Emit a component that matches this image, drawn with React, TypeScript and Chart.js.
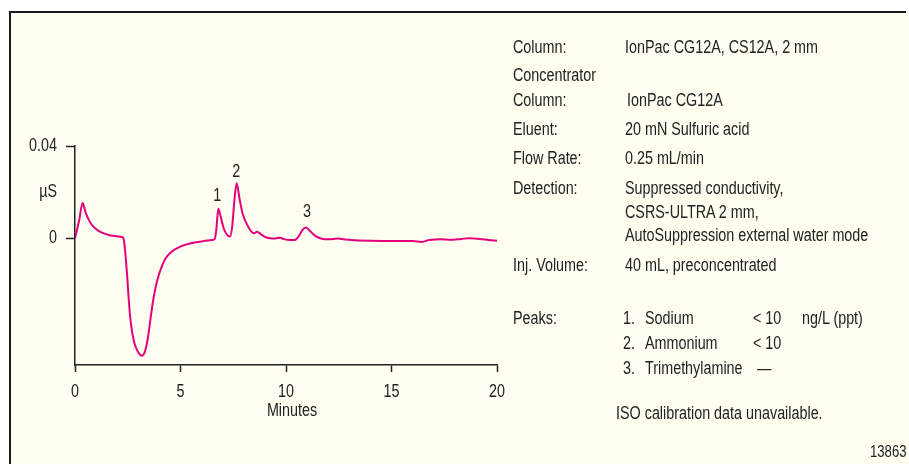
import React, { useEffect, useRef } from "react";
import { Chart, registerables } from "chart.js";

Chart.register(...registerables);

// ---- data ----
const times = [
  0, 0.2, 0.36, 0.5, 0.7, 0.87, 1.1, 1.34, 1.6, 1.82, 2.05, 2.25, 2.32, 2.4, 2.47, 2.55, 2.65, 2.8, 3.0, 3.16,
  3.3, 3.45, 3.6, 3.75, 3.9, 4.1, 4.27, 4.6, 5.0, 5.5, 6.0, 6.5, 6.62, 6.7, 6.79, 6.9, 7.05, 7.2, 7.35, 7.45,
  7.56, 7.66, 7.8, 7.95, 8.15, 8.35, 8.5, 8.62, 8.8, 9.0, 9.25, 9.5, 9.72, 9.9, 10.2, 10.4, 10.6, 10.8, 10.95, 11.15,
  11.4, 11.7, 12.0, 12.46, 12.8, 13.3, 14.0, 15.0, 16.0, 16.43, 16.8, 17.3, 17.8, 18.3, 18.7, 19.2, 19.6, 20.0,
];
const signal = [
  0, 0.0079, 0.0154, 0.0112, 0.0072, 0.005, 0.0033, 0.0022, 0.0014, 0.001, 0.0007, 0.0005, -0.001, -0.008, -0.016, -0.027, -0.037, -0.045, -0.0495, -0.051,
  -0.0495, -0.0435, -0.0335, -0.0245, -0.0182, -0.0125, -0.0091, -0.0057, -0.0036, -0.0022, -0.0014, -0.0008, -0.0004, 0.004, 0.0128, 0.0095, 0.0042, 0.0015, 0.0007, 0.005,
  0.017, 0.0238, 0.017, 0.0105, 0.006, 0.003, 0.0022, 0.0028, 0.0018, 0.0006, 0.0, -0.0001, 0.0002, -0.0004, -0.0008, -0.0008, 0.0008, 0.0038, 0.0046, 0.003,
  0.0009, -0.0002, -0.0005, -0.0001, -0.0006, -0.0009, -0.0011, -0.0012, -0.0012, -0.0016, -0.0008, -0.0004, -0.0007, -0.0003, 0.0, -0.0003, -0.0008, -0.0011,
];

const peakNames = ["1", "2", "3"];
const peakLabelTimes = [6.74, 7.64, 10.99];
const peakLabelValues = [0.0184, 0.0288, 0.0111];

const yTickValues = [0, 0.02, 0.04];
const yTickLabels = ["0", "µS", "0.04"];
const xTickValues = [0, 5, 10, 15, 20];
const xTitle = "Minutes";

const infoLabels = ["Column:", "Concentrator", "Column:", "Eluent:", "Flow Rate:", "Detection:", "", "", "Inj. Volume:"];
const infoValues = [
  "IonPac CG12A, CS12A, 2 mm",
  "",
  "IonPac CG12A",
  "20 mN Sulfuric acid",
  "0.25 mL/min",
  "Suppressed conductivity,",
  "CSRS-ULTRA 2 mm,",
  "AutoSuppression external water mode",
  "40 mL, preconcentrated",
];
const peakNumbers = ["1.", "2.", "3."];
const peakCompounds = ["Sodium", "Ammonium", "Trimethylamine"];
const peakAmounts = ["< 10", "< 10", "—"];
const peakUnits = ["ng/L (ppt)", "", ""];
const footNote = "ISO calibration data unavailable.";
const figureId = "13863";

// ---- layout (not data) ----
const infoRowY = [47, 75, 100, 129, 158, 188, 212, 235, 265];
const infoValueX = [625, 625, 627, 625, 625, 625, 625, 625, 625];
const peakRowY = [318, 343, 368];

const FONT = '"Liberation Sans", Arial, sans-serif';
const FSIZE = 17.5;
const SQUEEZE = 0.82;
const TEXT = "#222";

function drawNarrow(ctx: CanvasRenderingContext2D, text: string, x: number, y: number, align: CanvasTextAlign) {
  ctx.save();
  ctx.translate(x, y);
  ctx.scale(SQUEEZE, 1);
  ctx.textAlign = align;
  ctx.textBaseline = "middle";
  ctx.fillText(text, 0, 0);
  ctx.restore();
}

const labelPlugin = {
  id: "narrowLabels",
  afterDraw(chart: any) {
    const { ctx, scales, chartArea } = chart;
    ctx.save();
    ctx.font = `${FSIZE}px ${FONT}`;
    ctx.fillStyle = TEXT;
    scales.x.ticks.forEach((t: any) => {
      drawNarrow(ctx, String(t.value), scales.x.getPixelForValue(t.value), chartArea.bottom + 27, "center");
    });
    scales.y.ticks.forEach((t: any) => {
      const i = yTickValues.indexOf(t.value);
      drawNarrow(ctx, i >= 0 ? yTickLabels[i] : "", chartArea.left - 18, scales.y.getPixelForValue(t.value), "right");
    });
    drawNarrow(ctx, xTitle, (chartArea.left + chartArea.right) / 2 + 6, chartArea.bottom + 46, "center");
    peakNames.forEach((n, i) => {
      drawNarrow(ctx, n, scales.x.getPixelForValue(peakLabelTimes[i]), scales.y.getPixelForValue(peakLabelValues[i]), "center");
    });
    ctx.restore();
  },
};

function ChromChart() {
  const ref = useRef<HTMLCanvasElement | null>(null);
  useEffect(() => {
    if (!ref.current) return;
    const chart = new Chart(ref.current, {
      type: "line",
      data: {
        datasets: [
          {
            data: times.map((t, i) => ({ x: t, y: signal[i] })),
            borderColor: "#e4007c",
            borderWidth: 2,
            pointRadius: 0,
            cubicInterpolationMode: "monotone",
            fill: false,
          },
        ],
      },
      options: {
        animation: false,
        responsive: false,
        devicePixelRatio: 1,
        layout: { padding: { left: 0, right: 412, top: 146, bottom: 42 } },
        plugins: { legend: { display: false }, tooltip: { enabled: false } },
        scales: {
          x: {
            type: "linear",
            min: 0,
            max: 20,
            afterBuildTicks: (s: any) => {
              s.ticks = xTickValues.map((v) => ({ value: v }));
            },
            afterFit: (s: any) => {
              s.height = 57;
            },
            grid: { drawOnChartArea: false, drawTicks: true, tickLength: 7, tickColor: TEXT, tickWidth: 1.5 },
            border: { display: true, color: TEXT, width: 1.5 },
            ticks: { display: false },
          },
          y: {
            type: "linear",
            min: -0.055,
            max: 0.04,
            afterBuildTicks: (s: any) => {
              s.ticks = yTickValues.map((v) => ({ value: v }));
            },
            afterFit: (s: any) => {
              s.width = 75;
            },
            grid: {
              drawOnChartArea: false,
              drawTicks: true,
              tickLength: 9,
              tickWidth: 1.5,
              tickColor: (c: any) => (c.tick && c.tick.value === 0.02 ? "rgba(0,0,0,0)" : TEXT),
            },
            border: { display: true, color: TEXT, width: 1.5 },
            ticks: { display: false },
          },
        },
      },
      plugins: [labelPlugin],
    } as any);
    return () => chart.destroy();
  }, []);
  return (
    <canvas
      ref={ref}
      width={909}
      height={464}
      style={{ position: "absolute", left: 0, top: 0, width: 909, height: 464, display: "block" }}
    />
  );
}

export default function App() {
  const txt = (text: string, x: number, cy: number, key: string, size: number = FSIZE) => (
    <div
      key={key}
      style={{
        position: "absolute",
        left: x,
        top: cy - 10,
        lineHeight: "20px",
        fontSize: size,
        fontFamily: FONT,
        color: TEXT,
        whiteSpace: "pre",
        transform: `scaleX(${SQUEEZE})`,
        transformOrigin: "0 50%",
      }}
    >
      {text}
    </div>
  );
  return (
    <div style={{ position: "fixed", left: 0, top: 0, width: 909, height: 464, background: "#fefef1", overflow: "hidden" }}>
      <div style={{ position: "absolute", left: 0, top: 0, width: 909, height: 11, background: "#fff" }} />
      <div style={{ position: "absolute", left: 0, top: 0, width: 9, height: 464, background: "#fff" }} />
      <div style={{ position: "absolute", left: 9, top: 11, width: 2, height: 453, background: "#1a1a1a" }} />
      <div style={{ position: "absolute", left: 9, top: 11, width: 897, height: 2, background: "#1a1a1a" }} />
      <ChromChart />
      {infoLabels.map((l, i) => (l ? txt(l, 513, infoRowY[i], "l" + i) : null))}
      {infoValues.map((v, i) => (v ? txt(v, infoValueX[i], infoRowY[i], "v" + i) : null))}
      {txt("Peaks:", 513, peakRowY[0], "pk")}
      {peakNumbers.map((n, i) => txt(n, 623, peakRowY[i], "pn" + i))}
      {peakCompounds.map((n, i) => txt(n, 645, peakRowY[i], "pc" + i))}
      {peakAmounts.map((n, i) => txt(n, i === 2 ? 757 : 753, peakRowY[i], "pa" + i))}
      {peakUnits.map((n, i) => (n ? txt(n, 802, peakRowY[i], "pu" + i) : null))}
      {txt(footNote, 616, 413, "foot")}
      {txt(figureId, 870, 452, "id", 16)}
    </div>
  );
}
